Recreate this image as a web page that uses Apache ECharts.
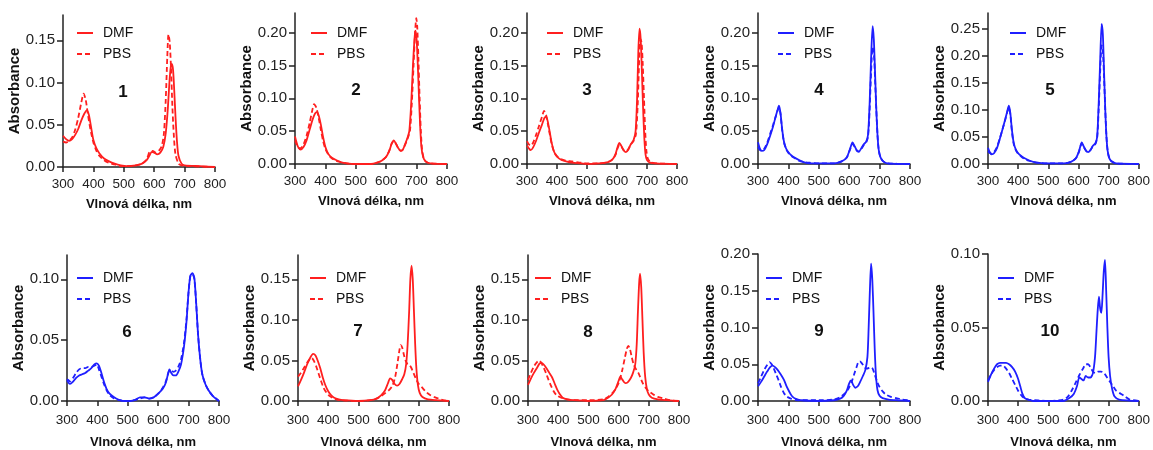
<!DOCTYPE html>
<html>
<head>
<meta charset="utf-8">
<script src="https://cdn.jsdelivr.net/npm/echarts@6/dist/echarts.min.js"></script>
<style>html,body{margin:0;padding:0;background:#fff}#c{width:1153px;height:450px}</style>
</head>
<body>
<div id="c"></div>
<script>
// ---- data: [wavelength nm, absorbance] ----
const dmf1 = [[300,.037],[310,.033],[320,.031],[330,.033],[340,.038],[350,.045],[360,.055],[370,.063],[378,.067],[385,.062],[392,.048],[400,.032],[410,.022],[420,.016],[435,.010],[450,.007],[470,.004],[490,.002],[510,.001],[540,.002],[560,.004],[575,.008],[585,.014],[592,.018],[600,.017],[610,.015],[620,.017],[630,.024],[638,.04],[645,.07],[650,.10],[655,.12],[658,.122],[662,.115],[666,.09],[670,.06],[675,.03],[680,.013],[690,.004],[700,.002],[750,.001],[800,0]];
const pbs1 = [[300,.030],[310,.029],[320,.031],[330,.035],[340,.044],[350,.058],[360,.076],[368,.087],[375,.079],[382,.062],[390,.045],[400,.029],[410,.019],[420,.013],[435,.008],[450,.005],[470,.003],[490,.001],[510,.001],[540,.002],[560,.004],[575,.009],[585,.018],[595,.019],[605,.017],[615,.019],[625,.025],[632,.04],[638,.08],[643,.13],[647,.157],[651,.148],[655,.12],[660,.07],[665,.035],[670,.015],[680,.004],[690,.002],[720,.001],[800,0]];
const dmf2 = [[300,.042],[305,.033],[310,.026],[318,.022],[328,.026],[338,.036],[348,.052],[358,.068],[366,.077],[372,.079],[378,.074],[385,.06],[392,.042],[400,.026],[410,.015],[420,.010],[435,.006],[450,.003],[470,.001],[500,0],[550,0],[570,.002],[585,.005],[600,.011],[610,.02],[618,.031],[625,.036],[632,.031],[640,.024],[648,.020],[655,.022],[662,.030],[670,.040],[676,.05],[682,.09],[688,.15],[693,.19],[696,.203],[700,.19],[704,.15],[708,.10],[712,.055],[716,.025],[722,.01],[730,.004],[745,.001],[800,0]];
const pbs2 = [[300,.036],[305,.030],[310,.025],[318,.024],[328,.030],[338,.043],[348,.062],[356,.080],[363,.091],[370,.086],[378,.07],[385,.052],[392,.036],[400,.023],[410,.014],[420,.009],[435,.005],[450,.003],[470,.001],[500,0],[550,0],[570,.002],[585,.005],[600,.011],[610,.02],[618,.031],[625,.035],[632,.031],[640,.024],[648,.020],[655,.022],[662,.029],[670,.038],[678,.05],[684,.09],[690,.15],[695,.20],[699,.222],[702,.21],[706,.16],[710,.10],[714,.05],[718,.022],[724,.008],[732,.003],[745,.001],[800,0]];
const dmf3 = [[300,.028],[306,.024],[312,.021],[320,.025],[330,.035],[340,.048],[350,.060],[358,.070],[364,.072],[370,.063],[376,.048],[382,.033],[390,.019],[400,.011],[415,.006],[430,.004],[450,.002],[480,.001],[500,0],[540,.001],[570,.003],[585,.007],[595,.015],[602,.026],[608,.032],[614,.028],[622,.021],[630,.018],[638,.022],[646,.030],[655,.036],[662,.05],[667,.10],[671,.17],[675,.206],[679,.19],[683,.14],[687,.085],[691,.04],[695,.015],[700,.006],[710,.002],[730,.001],[800,0]];
const pbs3 = [[300,.035],[306,.030],[312,.028],[320,.032],[330,.044],[340,.058],[350,.072],[357,.081],[364,.074],[370,.06],[376,.045],[382,.031],[390,.019],[400,.012],[415,.007],[430,.005],[450,.004],[480,.002],[500,.001],[540,.001],[570,.003],[585,.007],[595,.014],[602,.024],[608,.029],[614,.027],[622,.021],[630,.019],[638,.023],[646,.030],[655,.035],[663,.045],[669,.09],[674,.16],[678,.19],[682,.185],[686,.15],[690,.10],[694,.05],[698,.02],[703,.008],[712,.003],[730,.001],[800,0]];
const dmf4 = [[300,.033],[305,.025],[312,.020],[320,.021],[330,.030],[340,.043],[350,.058],[358,.072],[364,.082],[369,.089],[374,.078],[379,.055],[385,.035],[392,.024],[400,.018],[410,.013],[420,.010],[435,.006],[450,.003],[470,.001],[500,.001],[550,.001],[575,.004],[592,.010],[602,.022],[611,.033],[618,.027],[626,.020],[632,.019],[640,.024],[648,.030],[656,.034],[662,.045],[667,.09],[672,.16],[677,.21],[681,.19],[685,.14],[689,.085],[693,.045],[697,.022],[703,.01],[712,.004],[725,.001],[800,0]];
const pbs4 = [[300,.026],[305,.022],[312,.020],[320,.023],[330,.032],[340,.046],[350,.060],[358,.072],[364,.081],[369,.086],[374,.076],[379,.053],[385,.034],[392,.023],[400,.017],[410,.012],[420,.009],[435,.005],[450,.003],[470,.002],[500,.001],[550,.001],[575,.004],[592,.010],[602,.021],[611,.031],[618,.026],[626,.020],[632,.019],[640,.023],[648,.029],[656,.033],[662,.042],[667,.08],[672,.14],[677,.178],[681,.17],[685,.13],[689,.085],[693,.045],[697,.022],[703,.01],[712,.004],[725,.001],[800,0]];
const dmf5 = [[300,.030],[305,.023],[312,.018],[320,.020],[330,.030],[340,.048],[350,.068],[358,.085],[364,.098],[369,.108],[374,.095],[379,.065],[385,.040],[392,.027],[400,.020],[410,.015],[420,.011],[435,.007],[450,.004],[470,.002],[500,.001],[550,.001],[575,.004],[592,.011],[602,.024],[611,.040],[618,.032],[626,.024],[632,.022],[640,.026],[648,.034],[656,.038],[662,.05],[667,.11],[672,.19],[677,.26],[681,.24],[685,.17],[689,.10],[693,.05],[697,.024],[703,.01],[712,.004],[725,.001],[800,0]];
const pbs5 = [[300,.024],[305,.021],[312,.019],[320,.022],[330,.032],[340,.049],[350,.068],[358,.084],[364,.097],[369,.104],[374,.092],[379,.062],[385,.038],[392,.026],[400,.019],[410,.014],[420,.010],[435,.006],[450,.004],[470,.002],[500,.001],[550,.001],[575,.004],[592,.011],[602,.023],[611,.038],[618,.031],[626,.024],[632,.022],[640,.026],[648,.033],[656,.037],[662,.048],[667,.10],[672,.17],[677,.22],[681,.21],[685,.16],[689,.10],[693,.05],[697,.024],[703,.01],[712,.004],[725,.001],[800,0]];
const dmf6 = [[300,.017],[305,.015],[310,.014],[320,.016],[330,.019],[340,.021],[350,.022],[360,.023],[370,.025],[380,.027],[390,.030],[398,.031],[405,.029],[412,.024],[420,.017],[430,.010],[440,.006],[455,.003],[470,.001],[490,0],[510,0],[525,.001],[540,.003],[555,.003],[570,.002],[585,.003],[600,.006],[615,.010],[625,.015],[632,.022],[637,.026],[643,.023],[650,.021],[658,.021],[666,.024],[675,.030],[685,.045],[693,.065],[700,.09],[706,.103],[713,.105],[719,.101],[725,.08],[731,.055],[738,.035],[745,.022],[755,.014],[765,.009],[780,.004],[790,.002],[800,0]];
const pbs6 = [[300,.018],[305,.017],[310,.016],[320,.019],[330,.023],[340,.026],[350,.027],[360,.027],[370,.028],[380,.028],[390,.029],[398,.030],[405,.026],[412,.021],[420,.015],[430,.009],[440,.005],[455,.002],[470,.001],[490,0],[510,0],[525,.001],[540,.002],[555,.003],[570,.002],[585,.003],[600,.006],[615,.011],[625,.016],[632,.022],[637,.025],[643,.025],[650,.024],[658,.025],[666,.028],[675,.034],[685,.048],[693,.067],[700,.09],[706,.103],[713,.104],[719,.10],[725,.08],[731,.055],[738,.035],[745,.022],[755,.014],[765,.009],[780,.004],[790,.002],[800,0]];
const dmf7 = [[300,.018],[310,.026],[320,.035],[330,.045],[340,.053],[350,.058],[358,.056],[366,.049],[374,.040],[382,.029],[390,.020],[400,.012],[410,.007],[420,.004],[435,.002],[450,.001],[500,0],[540,.001],[560,.003],[575,.007],[588,.013],[598,.022],[605,.028],[612,.026],[620,.021],[628,.019],[636,.021],[645,.027],[652,.033],[658,.045],[663,.07],[668,.11],[672,.15],[676,.167],[680,.15],[684,.11],[688,.07],[692,.04],[697,.02],[703,.01],[712,.005],[730,.002],[760,.001],[800,0]];
const pbs7 = [[300,.030],[310,.035],[320,.041],[330,.047],[340,.052],[345,.053],[352,.050],[360,.043],[368,.034],[376,.025],[385,.016],[395,.010],[405,.006],[420,.003],[440,.001],[500,0],[540,.001],[560,.003],[575,.006],[590,.010],[603,.014],[613,.019],[622,.030],[630,.048],[636,.063],[640,.069],[645,.066],[650,.058],[656,.050],[662,.046],[668,.045],[675,.041],[683,.034],[692,.026],[700,.021],[710,.017],[722,.012],[735,.008],[750,.005],[765,.003],[780,.001],[800,0]];
const dmf8 = [[300,.020],[310,.028],[320,.035],[330,.041],[338,.046],[345,.047],[352,.045],[360,.041],[370,.035],[380,.029],[390,.020],[398,.013],[406,.008],[415,.004],[430,.002],[450,.001],[500,0],[550,.001],[565,.004],[578,.008],[590,.015],[600,.025],[606,.030],[613,.026],[622,.022],[630,.023],[640,.028],[648,.035],[655,.045],[660,.07],[664,.11],[668,.145],[671,.157],[675,.14],[679,.10],[683,.06],[688,.03],[694,.014],[700,.008],[710,.004],[730,.002],[760,.001],[800,0]];
const pbs8 = [[300,.026],[310,.035],[320,.043],[330,.048],[337,.050],[344,.047],[352,.041],[360,.034],[368,.026],[376,.019],[385,.012],[395,.007],[410,.004],[430,.002],[450,.001],[500,.001],[550,.002],[565,.005],[580,.010],[592,.016],[602,.024],[612,.038],[620,.052],[627,.064],[632,.068],[637,.065],[643,.055],[650,.045],[658,.039],[665,.035],[672,.029],[680,.022],[690,.016],[700,.012],[715,.008],[730,.005],[750,.003],[770,.001],[800,0]];
const dmf9 = [[300,.020],[310,.026],[320,.033],[330,.040],[340,.046],[348,.048],[356,.046],[365,.042],[375,.036],[385,.029],[393,.021],[400,.015],[408,.009],[416,.005],[425,.003],[440,.001],[500,0],[550,.001],[570,.003],[582,.007],[592,.014],[600,.024],[606,.028],[613,.022],[620,.018],[628,.020],[636,.026],[645,.034],[653,.042],[660,.06],[664,.10],[668,.15],[672,.187],[676,.165],[680,.12],[684,.07],[688,.035],[693,.015],[700,.007],[710,.004],[730,.002],[760,.001],[800,0]];
const pbs9 = [[300,.024],[310,.033],[320,.042],[330,.049],[338,.053],[345,.050],[352,.044],[360,.036],[368,.028],[376,.019],[385,.011],[395,.006],[410,.003],[430,.001],[500,.001],[550,.002],[570,.005],[585,.010],[598,.017],[608,.026],[616,.036],[624,.046],[630,.053],[635,.054],[642,.051],[650,.046],[658,.044],[665,.045],[671,.046],[677,.044],[684,.036],[692,.026],[700,.019],[710,.013],[720,.009],[735,.006],[755,.004],[775,.002],[800,.001]];
const dmf10 = [[300,.013],[310,.018],[320,.022],[330,.025],[340,.026],[350,.026],[360,.026],[370,.025],[380,.023],[390,.020],[400,.015],[407,.010],[414,.005],[422,.002],[432,.001],[450,0],[550,0],[570,.002],[585,.005],[595,.010],[603,.016],[610,.015],[617,.014],[624,.017],[632,.016],[640,.016],[648,.019],[655,.030],[660,.048],[664,.062],[668,.071],[672,.063],[676,.060],[680,.072],[684,.088],[688,.096],[692,.075],[696,.05],[700,.03],[705,.017],[712,.008],[720,.003],[735,.001],[800,0]];
const pbs10 = [[300,.014],[310,.018],[320,.021],[330,.023],[340,.024],[350,.024],[360,.022],[370,.019],[380,.015],[390,.011],[400,.007],[410,.004],[420,.002],[435,.001],[500,0],[550,.001],[565,.003],[580,.008],[592,.013],[604,.018],[615,.022],[625,.025],[632,.025],[640,.023],[648,.020],[656,.019],[665,.020],[675,.020],[685,.019],[695,.016],[705,.013],[715,.010],[725,.007],[740,.005],[755,.003],[770,.001],[800,0]];

const panelLabels = ['1','2','3','4','5','6','7','8','9','10'];
const dmfSets = [dmf1,dmf2,dmf3,dmf4,dmf5,dmf6,dmf7,dmf8,dmf9,dmf10];
const pbsSets = [pbs1,pbs2,pbs3,pbs4,pbs5,pbs6,pbs7,pbs8,pbs9,pbs10];
const yMax = [0.18,0.23,0.23,0.23,0.28,0.12,0.18,0.18,0.20,0.10];
const yTicks = [
  [0,0.05,0.10,0.15],[0,0.05,0.10,0.15,0.20],[0,0.05,0.10,0.15,0.20],[0,0.05,0.10,0.15,0.20],
  [0,0.05,0.10,0.15,0.20,0.25],[0,0.05,0.10],[0,0.05,0.10,0.15],[0,0.05,0.10,0.15],
  [0,0.05,0.10,0.15,0.20],[0,0.05,0.10]
];
const xTicks = [300,400,500,600,700,800];
const solvent = ['DMF','PBS'];
const panelColor = ['r','r','r','b','b','b','r','r','b','b'];

// ---- layout / style ----
const RED = '#ff1f1f', BLUE = '#1f1fff';
const FONT = '"Liberation Sans", Arial, sans-serif';
const layout = [
  {l:63, t:15, w:152, h:152, lg:76,  nx:123, ny:92},
  {l:295,t:13, w:152, h:151, lg:310, nx:356, ny:90},
  {l:527,t:13, w:150, h:151, lg:546, nx:587, ny:90},
  {l:758,t:13, w:152, h:151, lg:777, nx:819, ny:90},
  {l:988,t:13, w:152, h:151, lg:1009,nx:1050,ny:90},
  {l:67, t:255,w:152, h:151, lg:76,  nx:127, ny:332},
  {l:298,t:255,w:151, h:151, lg:309, nx:358, ny:331},
  {l:528,t:255,w:151, h:151, lg:534, nx:588, ny:332},
  {l:758,t:254,w:152, h:152, lg:765, nx:819, ny:331},
  {l:988,t:254,w:152, h:152, lg:997, nx:1050,ny:331}
];

const axisCol = '#222';
const grid = [], xAxis = [], yAxis = [], series = [], legend = [], graphic = [];
layout.forEach((g, i) => {
  const row2 = i >= 5;
  const col = panelColor[i] === 'r' ? RED : BLUE;
  grid.push({left:g.l, top:g.t, width:g.w, height:g.h, containLabel:false});
  xAxis.push({
    gridIndex:i, type:'value', min:300, max:800, interval:100,
    name:'Vlnová délka, nm', nameLocation:'middle', nameGap: row2 ? 35 : 31,
    nameTextStyle:{fontFamily:FONT, fontWeight:'bold', fontSize:13, color:'#111'},
    axisLine:{show:true, onZero:false, lineStyle:{color:axisCol, width:1.5}},
    axisTick:{show:true, length:5, lineStyle:{color:axisCol, width:1.5}},
    axisLabel:{fontFamily:FONT, fontSize:13.5, color:axisCol, margin: row2 ? 12 : 10, customValues:xTicks},
    splitLine:{show:false}
  });
  yAxis.push({
    gridIndex:i, type:'value', min:0, max:yMax[i],
    name:'Absorbance', nameLocation:'middle', nameGap:37,
    nameTextStyle:{fontFamily:FONT, fontWeight:'bold', fontSize:15, color:'#111'},
    axisLine:{show:true, lineStyle:{color:axisCol, width:1.5}},
    axisTick:{show:true, length:6, lineStyle:{color:axisCol, width:1.5}, customValues:yTicks[i]},
    axisLabel:{fontFamily:FONT, fontSize:15, color:axisCol, margin:8, customValues:yTicks[i],
      formatter:v => v.toFixed(2)},
    splitLine:{show:false}
  });
  [dmfSets[i], pbsSets[i]].forEach((d, k) => {
    series.push({
      name: solvent[k] + '#' + i, type:'line', xAxisIndex:i, yAxisIndex:i,
      data:d, symbol:'none', smooth:0.25, animation:false,
      itemStyle:{color:col},
      lineStyle:{color:col, width:1.8, type: k === 0 ? 'solid' : [5,3]}
    });
  });
  legend.push({
    left:g.lg, top: row2 ? 271 : 26, orient:'vertical', padding:0,
    itemWidth:16, itemHeight:14, itemGap:7,
    itemStyle:{opacity:0},
    lineStyle:{width:2},
    data: solvent.map(s => s + '#' + i),
    formatter: n => n.split('#')[0],
    textStyle:{fontFamily:FONT, fontSize:14, color:'#111', padding:[0,0,0,5]},
    selectedMode:false
  });
  graphic.push({
    type:'text', x:g.nx, y:g.ny, silent:true,
    style:{text:panelLabels[i], font:'bold 17px ' + FONT, fill:'#111',
      textAlign:'center', textVerticalAlign:'middle'}
  });
});

const chart = echarts.init(document.getElementById('c'), null, {renderer:'canvas'});
chart.setOption({animation:false, backgroundColor:'#fff', grid, xAxis, yAxis, series, legend, graphic});
</script>
</body>
</html>
